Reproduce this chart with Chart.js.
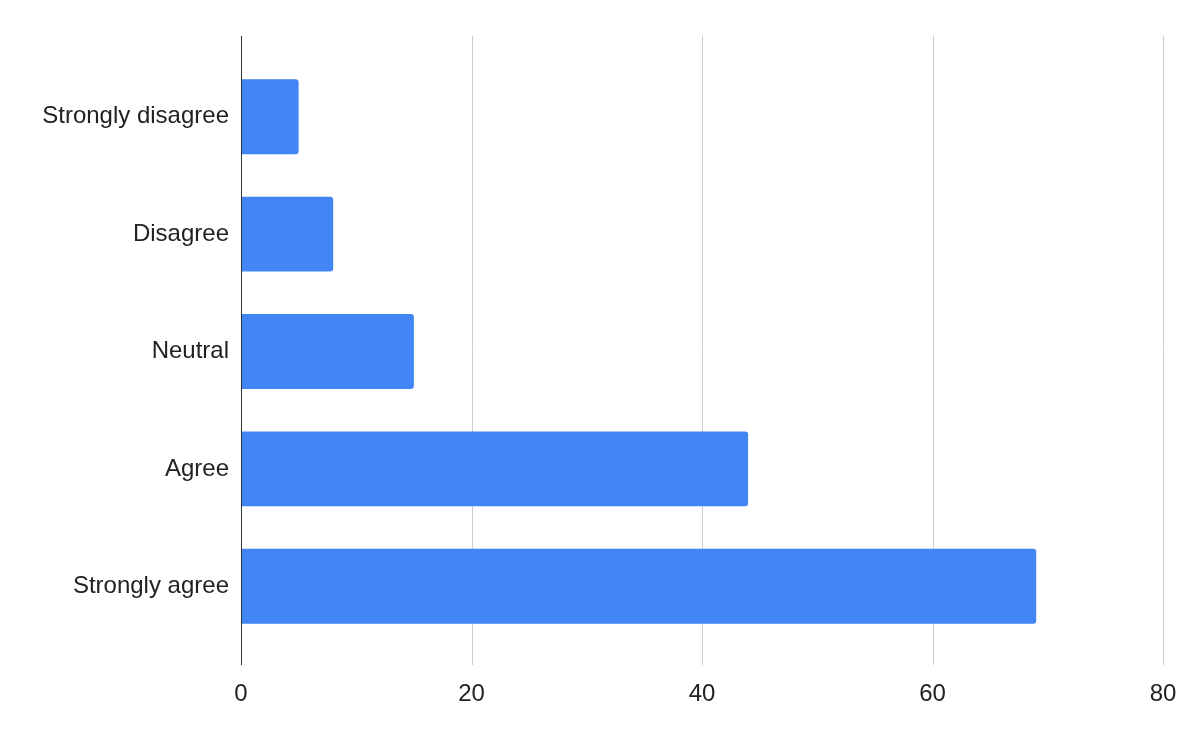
<!DOCTYPE html>
<html><head><meta charset="utf-8">
<script src="https://cdn.jsdelivr.net/npm/chart.js@4/dist/chart.umd.min.js"></script>
<style>html,body{margin:0;padding:0;background:#fff}#w{width:1200px;height:742px}</style>
</head><body><div id="w"><canvas id="c"></canvas></div>
<script>
const categories = ["Strongly disagree","Disagree","Neutral","Agree","Strongly agree"];
const values = [5, 8, 15, 44, 69];
const xTicks = [0, 20, 40, 60, 80];

const FONT = '"Liberation Sans", Arial, sans-serif';

const gridPlugin = {
  id: 'extGrid',
  beforeDatasetsDraw(chart) {
    const ctx = chart.ctx, x = chart.scales.x;
    const top = 36, bottom = 665;
    ctx.save();
    xTicks.forEach(v => {
      if (v === 0) return;
      const px = Math.round(x.getPixelForValue(v)) + 0.5;
      ctx.strokeStyle = '#cccccc'; ctx.lineWidth = 1;
      ctx.beginPath(); ctx.moveTo(px, top); ctx.lineTo(px, bottom); ctx.stroke();
    });
    ctx.restore();
  },
  afterDatasetsDraw(chart) {
    const ctx = chart.ctx, x = chart.scales.x;
    const px = Math.round(x.getPixelForValue(0)) + 0.5;
    ctx.save();
    ctx.strokeStyle = '#333333'; ctx.lineWidth = 1;
    ctx.beginPath(); ctx.moveTo(px, 36); ctx.lineTo(px, 665); ctx.stroke();
    ctx.restore();
  }
};

new Chart(document.getElementById('c'), {
  type: 'bar',
  data: { labels: categories, datasets: [{ data: values, backgroundColor: '#4285f4', borderRadius: 3, borderSkipped: 'start', categoryPercentage: 1, barPercentage: 0.638 }] },
  options: {
    indexAxis: 'y', responsive: true, maintainAspectRatio: false, animation: false,
    layout: { padding: { top: 58, right: 37, bottom: 0, left: 0 } },
    plugins: { legend: { display: false }, tooltip: { enabled: false } },
    scales: {
      x: {
        min: 0, max: 80,
        afterBuildTicks(s) { s.ticks = xTicks.map(v => ({ value: v })); },
        afterFit(s) { s.height = 97; s.paddingLeft = 0; s.paddingRight = 0; },
        grid: { display: false, drawTicks: false }, border: { display: false },
        ticks: { padding: 35, color: '#222222', maxRotation: 0, font: { family: FONT, size: 24 } }
      },
      y: {
        afterFit(s) { s.width = 241; s.paddingTop = 0; s.paddingBottom = 0; },
        grid: { display: false, drawTicks: false }, border: { display: false },
        ticks: { padding: 12, color: '#222222', font: { family: FONT, size: 24 } }
      }
    }
  },
  plugins: [gridPlugin]
});
</script></body></html>
